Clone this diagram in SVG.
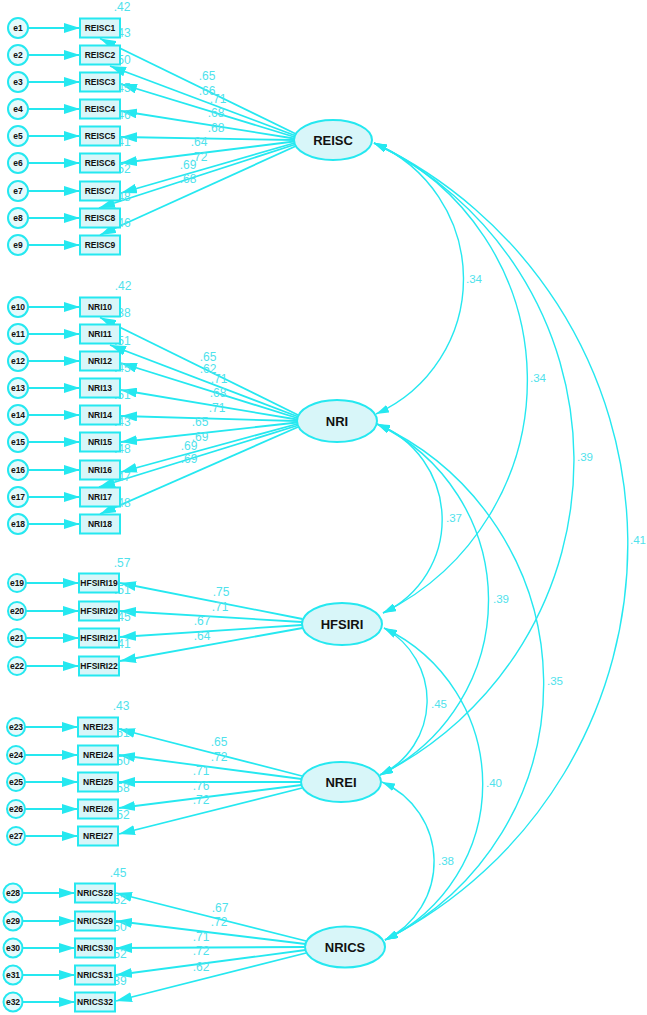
<svg xmlns="http://www.w3.org/2000/svg" width="647" height="1015" viewBox="0 0 647 1015">
<defs>
<style>
.ln{stroke:#25e8f0;stroke-width:1.8;fill:none;marker-end:url(#ah)}
.cov{stroke:#25e8f0;stroke-width:1.4;fill:none;marker-start:url(#ca);marker-end:url(#ca)}
.box{fill:#d8f6f9;stroke:#25e8f0;stroke-width:2}
.err{fill:#e6fafc;stroke:#25e8f0;stroke-width:2}
.lat{fill:#d8f6f9;stroke:#25e8f0;stroke-width:2}
.t{font-family:"Liberation Sans",Arial,sans-serif;font-weight:bold;font-size:8.5px;fill:#111;text-anchor:middle;dominant-baseline:central}
.lt{font-family:"Liberation Sans",Arial,sans-serif;font-weight:bold;font-size:13px;fill:#111;text-anchor:middle;dominant-baseline:central}
.v{font-family:"Liberation Sans",Arial,sans-serif;font-size:12px;fill:#4fe2ec;text-anchor:middle;dominant-baseline:central}
.r{font-family:"Liberation Sans",Arial,sans-serif;font-size:12px;fill:#4fe2ec;text-anchor:start;dominant-baseline:central}
.c{font-family:"Liberation Sans",Arial,sans-serif;font-size:11.5px;fill:#4fe2ec;text-anchor:middle;dominant-baseline:central}
</style>
<marker id="ah" viewBox="0 0 16 10" refX="16" refY="5" markerWidth="16" markerHeight="10" markerUnits="userSpaceOnUse" orient="auto"><path d="M0,0 L16,5 L0,10 z" fill="#25e8f0"/></marker>
<marker id="ca" viewBox="0 0 13 8" refX="13" refY="4" markerWidth="13" markerHeight="8" markerUnits="userSpaceOnUse" orient="auto-start-reverse"><path d="M0,0 L13,4 L0,8 z" fill="#25e8f0"/></marker>
</defs>
<rect width="647" height="1015" fill="#fff"/>

<g id="connectors">
<!-- error arrows -->
<path class="ln" d="M28,28 L80,28"/><path class="ln" d="M28,55 L80,55"/><path class="ln" d="M28,82 L80,82"/>
<path class="ln" d="M28,109 L80,109"/><path class="ln" d="M28,136 L80,136"/><path class="ln" d="M28,163 L80,163"/>
<path class="ln" d="M28,191 L80,191"/><path class="ln" d="M28,218 L80,218"/><path class="ln" d="M28,245 L80,245"/>
<path class="ln" d="M28,307 L80,307"/><path class="ln" d="M28,334 L80,334"/><path class="ln" d="M28,361 L80,361"/>
<path class="ln" d="M28,388 L80,388"/><path class="ln" d="M28,415 L80,415"/><path class="ln" d="M28,442 L80,442"/>
<path class="ln" d="M28,470 L80,470"/><path class="ln" d="M28,497 L80,497"/><path class="ln" d="M28,524 L80,524"/>
<path class="ln" d="M26,583 L79,583"/><path class="ln" d="M26,611 L79,611"/><path class="ln" d="M26,638 L79,638"/><path class="ln" d="M26,666 L79,666"/>
<path class="ln" d="M25,727 L78,727"/><path class="ln" d="M25,755 L78,755"/><path class="ln" d="M25,782 L78,782"/><path class="ln" d="M25,809 L78,809"/><path class="ln" d="M25,836 L78,836"/>
<path class="ln" d="M22.5,893 L75,893"/><path class="ln" d="M22.5,921 L75,921"/><path class="ln" d="M22.5,948 L75,948"/><path class="ln" d="M22.5,975 L75,975"/><path class="ln" d="M22.5,1002 L75,1002"/>
<!-- REISC loadings -->
<path class="ln" d="M296,134 L100,38.5"/>
<path class="ln" d="M295,135.5 L110,66"/>
<path class="ln" d="M294.5,137 L121,84"/>
<path class="ln" d="M294,138.5 L121,111"/>
<path class="ln" d="M294,140 L121,137"/>
<path class="ln" d="M294,141.5 L121,163"/>
<path class="ln" d="M294.5,143 L121,193"/>
<path class="ln" d="M295,144.5 L99,208"/>
<path class="ln" d="M296,146 L100,235"/>
<!-- NRI loadings -->
<path class="ln" d="M298,415 L100,317.5"/>
<path class="ln" d="M297.5,416.5 L110,345"/>
<path class="ln" d="M297,418 L121,363"/>
<path class="ln" d="M297,419.5 L121,390"/>
<path class="ln" d="M297,421 L121,416"/>
<path class="ln" d="M297,422.5 L121,442"/>
<path class="ln" d="M297,424 L121,472"/>
<path class="ln" d="M297.5,425.5 L99,487"/>
<path class="ln" d="M298,427 L100,514"/>
<!-- HFSIRI loadings -->
<path class="ln" d="M302.5,619 L120,583"/>
<path class="ln" d="M302,622 L120,611"/>
<path class="ln" d="M302,625 L120,637"/>
<path class="ln" d="M302.5,628 L120,661"/>
<!-- NREI loadings -->
<path class="ln" d="M302,776 L119,729"/>
<path class="ln" d="M301.5,779 L119,755"/>
<path class="ln" d="M301,782 L119,782"/>
<path class="ln" d="M301.5,785 L119,808"/>
<path class="ln" d="M302,788 L119,834"/>
<!-- NRICS loadings -->
<path class="ln" d="M306,941 L116,893"/>
<path class="ln" d="M305.5,944 L116,921"/>
<path class="ln" d="M305,947 L116,948"/>
<path class="ln" d="M305.5,950 L116,975"/>
<path class="ln" d="M306,953 L116,1001"/>
<!-- covariances -->
<path class="cov" d="M374,143 A148,148 0 0 1 376,414"/>
<path class="cov" d="M374,143 A260,260 0 0 1 383,613"/>
<path class="cov" d="M374,143 A352,352 0 0 1 380,775"/>
<path class="cov" d="M374,143 A444,444 0 0 1 385,940"/>
<path class="cov" d="M377,424 A103,103 0 0 1 383,613"/>
<path class="cov" d="M377,424 A195,195 0 0 1 380,775"/>
<path class="cov" d="M377,424 A286,286 0 0 1 385,940"/>
<path class="cov" d="M384,628 A82.5,82.5 0 0 1 380,775"/>
<path class="cov" d="M384,628 A173,173 0 0 1 385,940"/>
<path class="cov" d="M382,782 A87,87 0 0 1 385,940"/>
<!-- loading labels -->
<text class="v" x="207" y="76">.65</text><text class="v" x="207" y="91">.66</text><text class="v" x="218" y="99">.71</text>
<text class="v" x="216" y="113">.68</text><text class="v" x="216" y="128">.68</text><text class="v" x="199" y="142">.64</text>
<text class="v" x="199" y="157">.72</text><text class="v" x="188" y="165">.69</text><text class="v" x="188" y="179">.68</text>
<text class="v" x="208" y="357">.65</text><text class="v" x="208" y="369">.62</text><text class="v" x="219" y="379">.71</text>
<text class="v" x="218" y="393">.68</text><text class="v" x="217" y="408">.71</text><text class="v" x="200" y="422">.65</text>
<text class="v" x="200" y="437">.69</text><text class="v" x="189" y="446">.69</text><text class="v" x="189" y="459">.69</text>
<text class="v" x="221" y="592">.75</text><text class="v" x="220" y="607">.71</text><text class="v" x="202" y="621">.67</text><text class="v" x="202" y="636">.64</text>
<text class="v" x="219" y="742">.65</text><text class="v" x="219" y="757">.72</text><text class="v" x="201" y="771">.71</text><text class="v" x="201" y="786">.76</text><text class="v" x="201" y="800">.72</text>
<text class="v" x="220" y="908">.67</text><text class="v" x="219" y="922">.72</text><text class="v" x="201" y="937">.71</text><text class="v" x="201" y="951">.72</text><text class="v" x="201" y="967">.62</text>
<!-- covariance labels -->
<text class="c" x="474" y="279">.34</text><text class="c" x="538" y="378">.34</text><text class="c" x="585" y="457">.39</text>
<text class="c" x="638" y="540">.41</text><text class="c" x="454" y="518">.37</text><text class="c" x="501" y="599">.39</text>
<text class="c" x="555" y="681">.35</text><text class="c" x="439" y="704">.45</text><text class="c" x="494" y="783">.40</text>
<text class="c" x="446" y="861">.38</text>
</g>

<g id="r2-labels">
<text class="v" x="122" y="7">.42</text>
<text class="r" x="114" y="33">.43</text><text class="r" x="114" y="60">.50</text><text class="r" x="114" y="88">.45</text>
<text class="r" x="114" y="115">.46</text><text class="r" x="114" y="142">.41</text><text class="r" x="114" y="169">.52</text>
<text class="r" x="114" y="197">.48</text><text class="r" x="114" y="223">.46</text>
<text class="v" x="123" y="286">.42</text>
<text class="r" x="114" y="313">.38</text><text class="r" x="114" y="341">.51</text><text class="r" x="114" y="368">.45</text>
<text class="r" x="114" y="395">.51</text><text class="r" x="114" y="422">.43</text><text class="r" x="114" y="449">.48</text>
<text class="r" x="114" y="477">.47</text><text class="r" x="114" y="503">.48</text>
<text class="v" x="122" y="563">.57</text>
<text class="r" x="114" y="590">.51</text><text class="r" x="114" y="617">.45</text><text class="r" x="114" y="644">.41</text>
<text class="v" x="121" y="706">.43</text>
<text class="r" x="113" y="733">.51</text><text class="r" x="113" y="761">.50</text><text class="r" x="113" y="788">.58</text><text class="r" x="113" y="815">.52</text>
<text class="v" x="118" y="873">.45</text>
<text class="r" x="110" y="900">.52</text><text class="r" x="110" y="927">.50</text><text class="r" x="110" y="954">.52</text><text class="r" x="110" y="981">.39</text>
</g>

<!-- REISC block -->
<g id="e1"><circle class="err" cx="18" cy="28" r="10"/><text class="t" x="18" y="28">e1</text></g>
<g id="e2"><circle class="err" cx="18" cy="55" r="10"/><text class="t" x="18" y="55">e2</text></g>
<g id="e3"><circle class="err" cx="18" cy="82" r="10"/><text class="t" x="18" y="82">e3</text></g>
<g id="e4"><circle class="err" cx="18" cy="109" r="10"/><text class="t" x="18" y="109">e4</text></g>
<g id="e5"><circle class="err" cx="18" cy="136" r="10"/><text class="t" x="18" y="136">e5</text></g>
<g id="e6"><circle class="err" cx="18" cy="163" r="10"/><text class="t" x="18" y="163">e6</text></g>
<g id="e7"><circle class="err" cx="18" cy="191" r="10"/><text class="t" x="18" y="191">e7</text></g>
<g id="e8"><circle class="err" cx="18" cy="218" r="10"/><text class="t" x="18" y="218">e8</text></g>
<g id="e9"><circle class="err" cx="18" cy="245" r="10"/><text class="t" x="18" y="245">e9</text></g>
<g id="REISC1"><rect class="box" x="80" y="18.5" width="40" height="19"/><text class="t" x="100" y="28">REISC1</text></g>
<g id="REISC2"><rect class="box" x="80" y="45.5" width="40" height="19"/><text class="t" x="100" y="55">REISC2</text></g>
<g id="REISC3"><rect class="box" x="80" y="72.5" width="40" height="19"/><text class="t" x="100" y="82">REISC3</text></g>
<g id="REISC4"><rect class="box" x="80" y="99.5" width="40" height="19"/><text class="t" x="100" y="109">REISC4</text></g>
<g id="REISC5"><rect class="box" x="80" y="126.5" width="40" height="19"/><text class="t" x="100" y="136">REISC5</text></g>
<g id="REISC6"><rect class="box" x="80" y="153.5" width="40" height="19"/><text class="t" x="100" y="163">REISC6</text></g>
<g id="REISC7"><rect class="box" x="80" y="181.5" width="40" height="19"/><text class="t" x="100" y="191">REISC7</text></g>
<g id="REISC8"><rect class="box" x="80" y="208.5" width="40" height="19"/><text class="t" x="100" y="218">REISC8</text></g>
<g id="REISC9"><rect class="box" x="80" y="235.5" width="40" height="19"/><text class="t" x="100" y="245">REISC9</text></g>
<g id="REISC"><ellipse class="lat" cx="333" cy="140" rx="39" ry="20"/><text class="lt" x="333" y="140">REISC</text></g>

<!-- NRI block -->
<g id="e10"><circle class="err" cx="18" cy="307" r="10"/><text class="t" x="18" y="307">e10</text></g>
<g id="e11"><circle class="err" cx="18" cy="334" r="10"/><text class="t" x="18" y="334">e11</text></g>
<g id="e12"><circle class="err" cx="18" cy="361" r="10"/><text class="t" x="18" y="361">e12</text></g>
<g id="e13"><circle class="err" cx="18" cy="388" r="10"/><text class="t" x="18" y="388">e13</text></g>
<g id="e14"><circle class="err" cx="18" cy="415" r="10"/><text class="t" x="18" y="415">e14</text></g>
<g id="e15"><circle class="err" cx="18" cy="442" r="10"/><text class="t" x="18" y="442">e15</text></g>
<g id="e16"><circle class="err" cx="18" cy="470" r="10"/><text class="t" x="18" y="470">e16</text></g>
<g id="e17"><circle class="err" cx="18" cy="497" r="10"/><text class="t" x="18" y="497">e17</text></g>
<g id="e18"><circle class="err" cx="18" cy="524" r="10"/><text class="t" x="18" y="524">e18</text></g>
<g id="NRI10"><rect class="box" x="80" y="297.5" width="40" height="19"/><text class="t" x="100" y="307">NRI10</text></g>
<g id="NRI11"><rect class="box" x="80" y="324.5" width="40" height="19"/><text class="t" x="100" y="334">NRI11</text></g>
<g id="NRI12"><rect class="box" x="80" y="351.5" width="40" height="19"/><text class="t" x="100" y="361">NRI12</text></g>
<g id="NRI13"><rect class="box" x="80" y="378.5" width="40" height="19"/><text class="t" x="100" y="388">NRI13</text></g>
<g id="NRI14"><rect class="box" x="80" y="405.5" width="40" height="19"/><text class="t" x="100" y="415">NRI14</text></g>
<g id="NRI15"><rect class="box" x="80" y="432.5" width="40" height="19"/><text class="t" x="100" y="442">NRI15</text></g>
<g id="NRI16"><rect class="box" x="80" y="460.5" width="40" height="19"/><text class="t" x="100" y="470">NRI16</text></g>
<g id="NRI17"><rect class="box" x="80" y="487.5" width="40" height="19"/><text class="t" x="100" y="497">NRI17</text></g>
<g id="NRI18"><rect class="box" x="80" y="514.5" width="40" height="19"/><text class="t" x="100" y="524">NRI18</text></g>
<g id="NRI"><ellipse class="lat" cx="337" cy="421" rx="40" ry="21"/><text class="lt" x="337" y="421">NRI</text></g>

<!-- HFSIRI block -->
<g id="e19"><circle class="err" cx="17" cy="583" r="9"/><text class="t" x="17" y="583">e19</text></g>
<g id="e20"><circle class="err" cx="17" cy="611" r="9"/><text class="t" x="17" y="611">e20</text></g>
<g id="e21"><circle class="err" cx="17" cy="638" r="9"/><text class="t" x="17" y="638">e21</text></g>
<g id="e22"><circle class="err" cx="17" cy="666" r="9"/><text class="t" x="17" y="666">e22</text></g>
<g id="HFSIRI19"><rect class="box" x="79" y="573.5" width="40" height="19"/><text class="t" x="99" y="583">HFSIRI19</text></g>
<g id="HFSIRI20"><rect class="box" x="79" y="601.5" width="40" height="19"/><text class="t" x="99" y="611">HFSIRI20</text></g>
<g id="HFSIRI21"><rect class="box" x="79" y="628.5" width="40" height="19"/><text class="t" x="99" y="638">HFSIRI21</text></g>
<g id="HFSIRI22"><rect class="box" x="79" y="656.5" width="40" height="19"/><text class="t" x="99" y="666">HFSIRI22</text></g>
<g id="HFSIRI"><ellipse class="lat" cx="342" cy="624" rx="40" ry="21"/><text class="lt" x="342" y="624">HFSIRI</text></g>

<!-- NREI block -->
<g id="e23"><circle class="err" cx="16" cy="727" r="9"/><text class="t" x="16" y="727">e23</text></g>
<g id="e24"><circle class="err" cx="16" cy="755" r="9"/><text class="t" x="16" y="755">e24</text></g>
<g id="e25"><circle class="err" cx="16" cy="782" r="9"/><text class="t" x="16" y="782">e25</text></g>
<g id="e26"><circle class="err" cx="16" cy="809" r="9"/><text class="t" x="16" y="809">e26</text></g>
<g id="e27"><circle class="err" cx="16" cy="836" r="9"/><text class="t" x="16" y="836">e27</text></g>
<g id="NREI23"><rect class="box" x="78" y="717.5" width="40" height="19"/><text class="t" x="98" y="727">NREI23</text></g>
<g id="NREI24"><rect class="box" x="78" y="745.5" width="40" height="19"/><text class="t" x="98" y="755">NREI24</text></g>
<g id="NREI25"><rect class="box" x="78" y="772.5" width="40" height="19"/><text class="t" x="98" y="782">NREI25</text></g>
<g id="NREI26"><rect class="box" x="78" y="799.5" width="40" height="19"/><text class="t" x="98" y="809">NREI26</text></g>
<g id="NREI27"><rect class="box" x="78" y="826.5" width="40" height="19"/><text class="t" x="98" y="836">NREI27</text></g>
<g id="NREI"><ellipse class="lat" cx="341" cy="782" rx="40" ry="20"/><text class="lt" x="341" y="782">NREI</text></g>

<!-- NRICS block -->
<g id="e28"><circle class="err" cx="13" cy="893" r="9.5"/><text class="t" x="13" y="893">e28</text></g>
<g id="e29"><circle class="err" cx="13" cy="921" r="9.5"/><text class="t" x="13" y="921">e29</text></g>
<g id="e30"><circle class="err" cx="13" cy="948" r="9.5"/><text class="t" x="13" y="948">e30</text></g>
<g id="e31"><circle class="err" cx="13" cy="975" r="9.5"/><text class="t" x="13" y="975">e31</text></g>
<g id="e32"><circle class="err" cx="13" cy="1002" r="9.5"/><text class="t" x="13" y="1002">e32</text></g>
<g id="NRICS28"><rect class="box" x="75" y="883.5" width="40" height="19"/><text class="t" x="95" y="893">NRICS28</text></g>
<g id="NRICS29"><rect class="box" x="75" y="911.5" width="40" height="19"/><text class="t" x="95" y="921">NRICS29</text></g>
<g id="NRICS30"><rect class="box" x="75" y="938.5" width="40" height="19"/><text class="t" x="95" y="948">NRICS30</text></g>
<g id="NRICS31"><rect class="box" x="75" y="965.5" width="40" height="19"/><text class="t" x="95" y="975">NRICS31</text></g>
<g id="NRICS32"><rect class="box" x="75" y="992.5" width="40" height="19"/><text class="t" x="95" y="1002">NRICS32</text></g>
<g id="NRICS"><ellipse class="lat" cx="345" cy="947" rx="40" ry="20.5"/><text class="lt" x="345" y="947">NRICS</text></g>
</svg>
